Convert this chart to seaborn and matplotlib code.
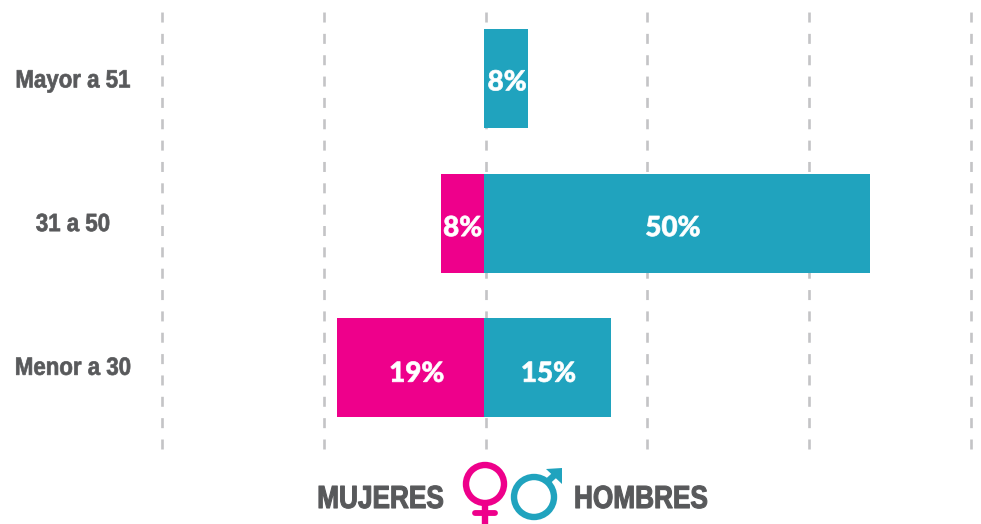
import matplotlib
matplotlib.use("Agg")
import matplotlib.pyplot as plt
import matplotlib.patches as mpatches
from matplotlib.patheffects import AbstractPathEffect
from matplotlib.transforms import Affine2D
import pandas as pd
import seaborn as sns

# bar lengths measured on the grid (they do not follow the printed labels exactly)
edades = ["Mayor a 51", "31 a 50", "Menor a 30"]
hombres = [5.4, 47.6, 15.6]
mujeres = [0, 5.35, 18.2]
etiq_hombres = ["8%", "50%", "15%"]
etiq_mujeres = ["", "8%", "19%"]
ticks = [-40, -20, 0, 20, 40, 60]

ROSA = "#EE008B"
AZUL = "#20A3BE"
GRIS = "#58595B"
W, H = 981, 524


class Heavy(AbstractPathEffect):
    # squeeze text around x0 (display px) and thicken it, no narrow font installed
    def __init__(self, sx, x0=0, stroke=0.0):
        self.sx = sx
        self.x0 = x0
        self.stroke = stroke

    def draw_path(self, renderer, gc, tpath, affine, rgbFace=None):
        squeeze = Affine2D().translate(-self.x0, 0).scale(self.sx, 1).translate(self.x0, 0)
        gc0 = renderer.new_gc()
        gc0.copy_properties(gc)
        gc0.set_linewidth(self.stroke)
        gc0.set_foreground(rgbFace)
        renderer.draw_path(gc0, tpath, affine + squeeze, rgbFace)
        gc0.restore()


sns.set_theme(style="white")
plt.rcParams['font.family'] = ['Liberation Sans', 'DejaVu Sans']

df = pd.DataFrame({"edad": edades, "hombres": hombres, "mujeres": [-m for m in mujeres]})

fig = plt.figure(figsize=(W / 100, H / 100), dpi=100)
# axes box, in pixels
ax = fig.add_axes([160.5 / W, 1 - 449 / H, (970 - 160.5) / W, (449 - 11) / H])

sns.barplot(data=df, y="edad", x="mujeres", color=ROSA, width=0.685, saturation=1, linewidth=0, ax=ax, zorder=3)
sns.barplot(data=df, y="edad", x="hombres", color=AZUL, width=0.685, saturation=1, linewidth=0, ax=ax, zorder=3)

ax.set_xlim(ticks[0], ticks[-1])
ax.set_ylim(2.561, -0.466)
ax.set_xlabel("")
ax.set_ylabel("")
ax.set_xticks(ticks)
ax.tick_params(axis="x", length=0, labelbottom=False)
ax.tick_params(axis="y", length=0, labelleft=False)
sns.despine(ax=ax, left=True, bottom=True)
# grid sits a hair right of zero so the bars hide the centre line
for x in ticks:
    ax.axvline(x + 0.15, color="#C4C4C6", lw=1.9, dashes=(3.79, 4.3), dash_capstyle="butt", zorder=1, clip_on=False)

# category labels, centred at x=73 px
base_cat = [-9, -8, -7]
for i, edad in enumerate(edades):
    ax.annotate(edad, (0, i), xycoords=ax.get_yaxis_transform(), xytext=(73 - 160.5, base_cat[i]),
                textcoords="offset pixels", ha="center", va="baseline", fontsize=18, fontweight="bold",
                color=GRIS, path_effects=[Heavy(0.89, 73, 0.5)], annotation_clip=False)

# value labels
offs_h = [1, -4, 1]
offs_m = [0, 0, 6]
base_val = [-12, -13, -14]
for i in range(3):
    ax.annotate(etiq_hombres[i], (hombres[i] / 2, i), xytext=(offs_h[i], base_val[i]), textcoords="offset pixels",
                ha="center", va="baseline", color="white", fontsize=20, fontweight="black",
                family=["Lato", "DejaVu Sans"], zorder=5, path_effects=[Heavy(1, 0, 0.5)])
    if etiq_mujeres[i]:
        ax.annotate(etiq_mujeres[i], (-mujeres[i] / 2, i), xytext=(offs_m[i], base_val[i]), textcoords="offset pixels",
                    ha="center", va="baseline", color="white", fontsize=20, fontweight="black",
                    family=["Lato", "DejaVu Sans"], zorder=5, path_effects=[Heavy(1, 0, 0.5)])

# legend at the bottom, drawn in pixel coordinates
ov = fig.add_axes([0, 0, 1, 1], facecolor="none")
ov.set_xlim(0, W)
ov.set_ylim(H, 0)
ov.axis("off")
ov.text(444, 508, "MUJERES", ha="right", va="baseline", fontsize=23, fontweight="bold", color=GRIS,
        path_effects=[Heavy(0.82, 444, 0.8)])
ov.text(574, 508, "HOMBRES", ha="left", va="baseline", fontsize=23, fontweight="bold", color=GRIS,
        path_effects=[Heavy(0.82, 574, 0.8)])

ov.add_patch(mpatches.Circle((485, 484), 19, fill=False, ec=ROSA, lw=4.6))
ov.plot([485, 485], [504, 524], color=ROSA, lw=4.6, solid_capstyle="butt")
ov.plot([475, 495], [513, 513], color=ROSA, lw=4.2, solid_capstyle="round")

ov.add_patch(mpatches.Circle((534, 497), 20, fill=False, ec=AZUL, lw=4.6))
ov.plot([547, 558], [482, 472], color=AZUL, lw=4.6, solid_capstyle="butt")
ov.add_patch(mpatches.Polygon([(546, 469), (562, 468), (562, 484)], closed=True, fc=AZUL, ec="none"))

fig.savefig("out.png", dpi=100)
